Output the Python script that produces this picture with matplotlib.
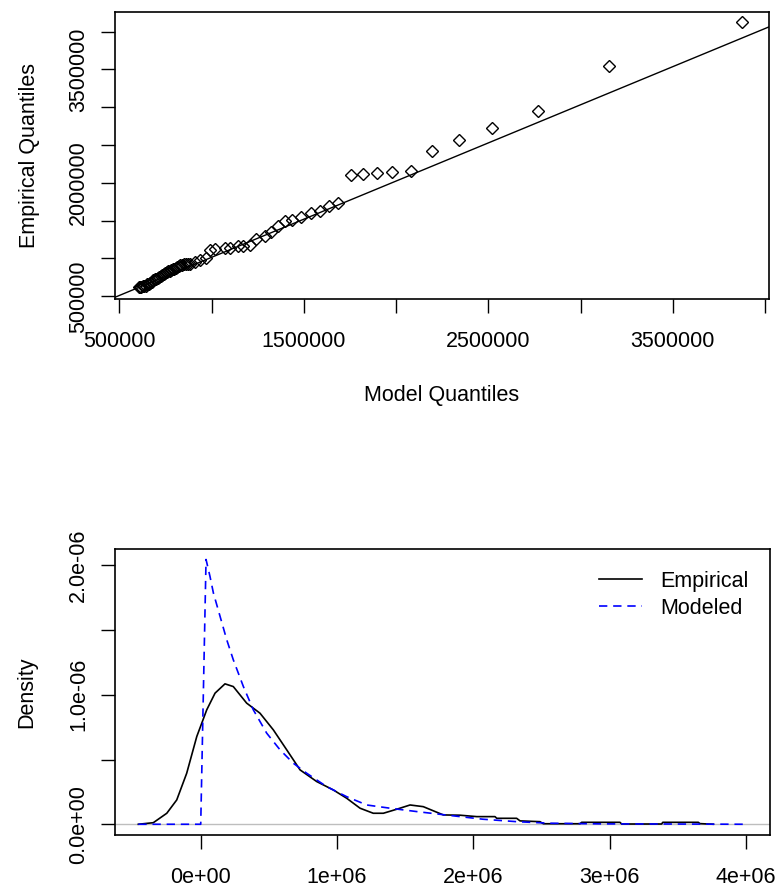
import matplotlib.pyplot as plt
from matplotlib.ticker import FixedLocator, FixedFormatter

plt.rcParams['font.family'] = ['Liberation Sans', 'DejaVu Sans']

# --- QQ plot data ---
model_q = [607000, 611000, 619000, 627000, 635000, 644000, 652000, 660000, 668000, 676000,
           684000, 692000, 700000, 709000, 717000, 725000, 733000, 741000, 749000, 757000,
           765000, 774000, 782000, 790000, 798000, 806000, 814000, 822000, 830000, 839000,
           849000, 860000, 871000, 882000, 909000, 936000, 969000, 990000, 1017000, 1072000,
           1099000, 1144000, 1171000, 1207000, 1243000, 1288000, 1324000, 1360000, 1397000, 1433000,
           1487000, 1541000, 1586000, 1635000, 1687000, 1758000, 1821000, 1897000, 1980000, 2081000,
           2197000, 2339000, 2522000, 2771000, 3153000, 3874000]
emp_q = [623000, 625000, 629000, 631000, 636000, 642000, 656000, 662000, 676000, 689000,
         709000, 722000, 735000, 742000, 755000, 769000, 782000, 795000, 802000, 815000,
         828000, 835000, 842000, 855000, 862000, 875000, 888000, 902000, 908000, 915000,
         922000, 928000, 930000, 931000, 952000, 975000, 1011000, 1108000, 1121000, 1144000,
         1144000, 1165000, 1165000, 1174000, 1263000, 1294000, 1351000, 1427000, 1497000, 1507000,
         1551000, 1596000, 1626000, 1693000, 1737000, 2105000, 2118000, 2136000, 2150000, 2160000,
         2428000, 2566000, 2726000, 2952000, 3545000, 4130000]
line_intercept = 7000
line_slope = 1.0085

qq_xticks = [500000, 1000000, 1500000, 2000000, 2500000, 3000000, 3500000, 4000000]
qq_xlabels = ['500000', '', '1500000', '', '2500000', '', '3500000', '']
qq_yticks = [500000, 1000000, 1500000, 2000000, 2500000, 3000000, 3500000, 4000000]
qq_ylabels = ['500000', '', '', '2000000', '', '', '3500000', '']

# --- density data ---
emp_x = [-458000, -348000, -249000, -176000, -103000, -29000, 44000, 105000, 178000, 239000,
         337000, 435000, 533000, 631000, 729000, 851000, 973000, 1071000, 1169000, 1266000,
         1340000, 1438000, 1536000, 1633000, 1780000, 1902000, 2025000, 2159000, 2172000, 2318000,
         2343000, 2489000, 2514000, 2783000, 2795000, 3076000, 3089000, 3382000, 3390000, 3651000,
         3663000, 3761000]
emp_d = [0.0, 0.012, 0.085, 0.188, 0.394, 0.678, 0.884, 1.013, 1.085, 1.064,
         0.936, 0.858, 0.729, 0.575, 0.420, 0.330, 0.265, 0.201, 0.124, 0.085,
         0.085, 0.116, 0.149, 0.136, 0.072, 0.070, 0.059, 0.059, 0.046, 0.046,
         0.026, 0.020, 0.004, 0.004, 0.015, 0.015, 0.002, 0.002, 0.015, 0.015,
         0.005, 0.0]
mod_x = [-458000, 0, 39000, 68000, 93000, 142000, 191000, 239000, 313000, 386000,
         484000, 582000, 679000, 778000, 924000, 1071000, 1218000, 1389000, 1585000, 1829000,
         2070000, 2318000, 2563000, 2930000, 3400000, 3990000]
mod_d = [0.0, 0.0, 2.046, 1.915, 1.787, 1.606, 1.425, 1.271, 1.064, 0.884,
         0.704, 0.575, 0.472, 0.394, 0.291, 0.213, 0.149, 0.124, 0.098, 0.068,
         0.039, 0.020, 0.008, 0.003, 0.002, 0.0]
dens_xticks = [0, 1000000, 2000000, 3000000, 4000000]
dens_xlabels = ['0e+00', '1e+06', '2e+06', '3e+06', '4e+06']
dens_yticks = [0.0, 0.5e-6, 1.0e-6, 1.5e-6, 2.0e-6]
dens_ylabels = ['0.0e+00', '', '1.0e-06', '', '2.0e-06']

fs = 15.5
W, H = 777, 890
fig = plt.figure(figsize=(W / 100, H / 100), dpi=100)
ax1 = fig.add_axes([115 / W, 1 - 299 / H, (769 - 115) / W, (299 - 12) / H])
ax2 = fig.add_axes([115 / W, 1 - 835 / H, (770 - 115) / W, (835 - 549) / H])

# top: QQ plot
ax1.plot(model_q, emp_q, 'D', mfc='none', mec='black', ms=6, mew=1)
ax1.axline((0, line_intercept), slope=line_slope, color='black', lw=1)
ax1.set_xlim(476000, 4022000)
ax1.set_ylim(464000, 4260000)
ax1.xaxis.set_major_locator(FixedLocator(qq_xticks))
ax1.xaxis.set_major_formatter(FixedFormatter(qq_xlabels))
ax1.yaxis.set_major_locator(FixedLocator(qq_yticks))
ax1.yaxis.set_major_formatter(FixedFormatter(qq_ylabels))
ax1.set_xlabel('Model Quantiles', fontsize=fs)
ax1.set_ylabel('Empirical Quantiles', fontsize=fs)
ax1.xaxis.set_label_coords(0.5, -0.3)
ax1.yaxis.set_label_coords(-0.115, 0.5)

# bottom: densities
emp_d_scaled = [d * 1e-6 for d in emp_d]
mod_d_scaled = [d * 1e-6 for d in mod_d]
ax2.axhline(0, color='#BEBEBE', lw=1)
ax2.plot(emp_x, emp_d_scaled, color='black', lw=1.2, label='Empirical')
ax2.plot(mod_x, mod_d_scaled, color='blue', lw=1.2, dashes=(5, 3.5), label='Modeled')
ax2.set_xlim(-629000, 4177000)
ax2.set_ylim(-0.083e-6, 2.127e-6)
ax2.xaxis.set_major_locator(FixedLocator(dens_xticks))
ax2.xaxis.set_major_formatter(FixedFormatter(dens_xlabels))
ax2.yaxis.set_major_locator(FixedLocator(dens_yticks))
ax2.yaxis.set_major_formatter(FixedFormatter(dens_ylabels))
ax2.set_ylabel('Density', fontsize=fs)
ax2.yaxis.set_label_coords(-0.118, 0.5)
ax2.legend(loc='upper right', frameon=False, fontsize=fs, handlelength=2.0,
           handletextpad=0.85, borderaxespad=0.6, labelspacing=0.3)

for ax in (ax1, ax2):
    ax.tick_params(direction='out', length=10, width=1, labelsize=fs)
    ax.tick_params(axis='x', pad=13)
    ax.tick_params(axis='y', pad=8.5)
    for lab in ax.get_yticklabels():
        lab.set_rotation(90)
        lab.set_va('center')
    for sp in ax.spines.values():
        sp.set_linewidth(1.2)

fig.savefig('out.png', dpi=100)
